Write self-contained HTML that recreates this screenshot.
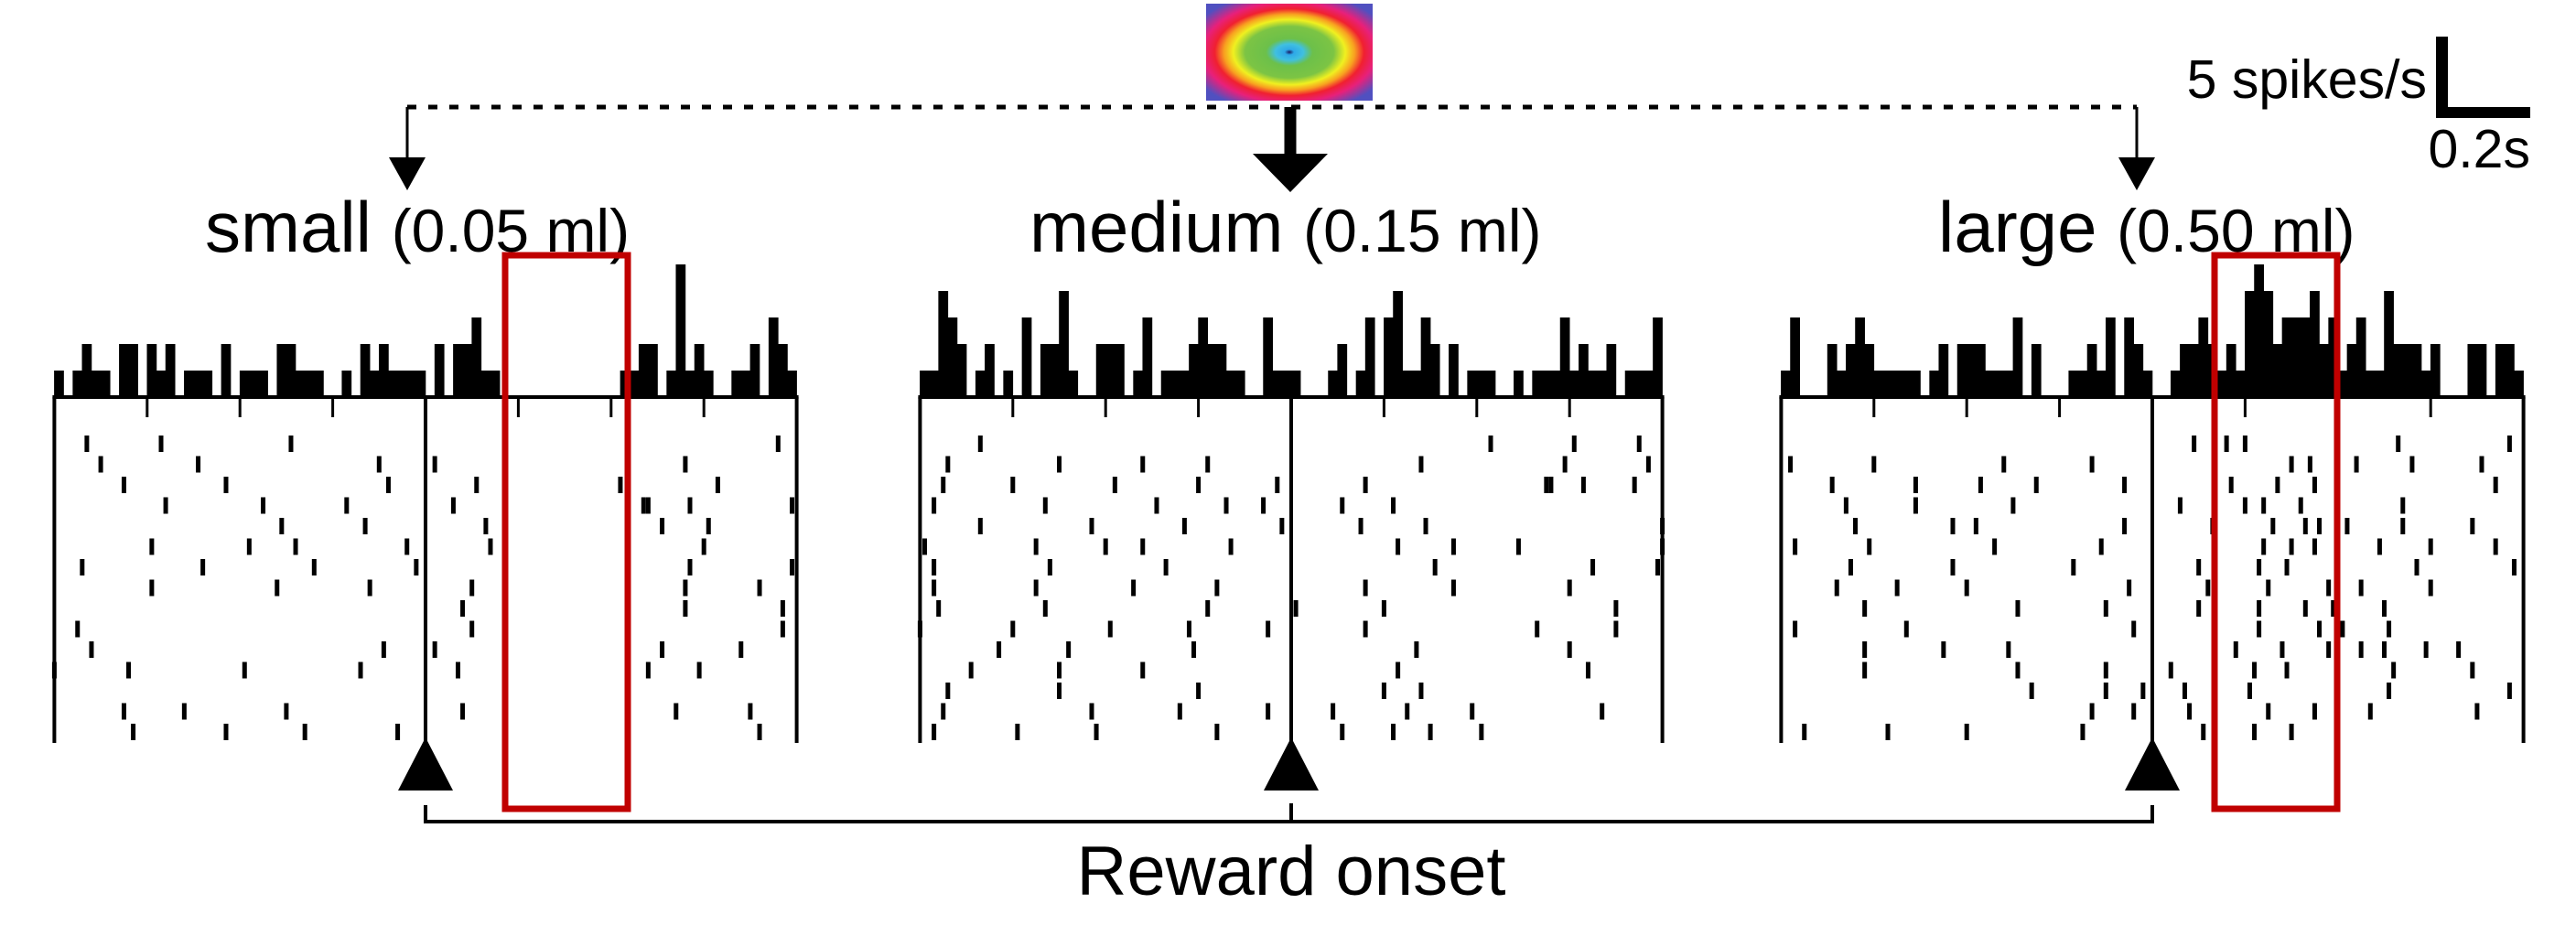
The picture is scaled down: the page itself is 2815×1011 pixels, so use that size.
<!DOCTYPE html>
<html><head><meta charset="utf-8"><style>
html,body{margin:0;padding:0;background:#fff;}
svg{display:block;}
text{font-family:"Liberation Sans",Arial,sans-serif;fill:#000;}
</style></head><body>
<svg id="fig" width="2815" height="1011" viewBox="0 0 2815 1011" xmlns="http://www.w3.org/2000/svg">
<defs>
<radialGradient id="rf" cx="50%" cy="50%" r="70%">
<stop offset="0" stop-color="#1a1a60"/><stop offset="0.04" stop-color="#2ea8e8"/><stop offset="0.12" stop-color="#40c0e0"/><stop offset="0.2" stop-color="#6cc04a"/><stop offset="0.38" stop-color="#7cc444"/><stop offset="0.48" stop-color="#f0f020"/><stop offset="0.56" stop-color="#f8a020"/><stop offset="0.64" stop-color="#f02030"/><stop offset="0.74" stop-color="#e8207a"/><stop offset="0.9" stop-color="#5050c0"/></radialGradient>
</defs>
<rect x="1318" y="4" width="182" height="106" fill="url(#rf)"/>
<line x1="445" y1="117" x2="2335" y2="117" stroke="#000" stroke-width="5" stroke-dasharray="10 13"/>
<g><line x1="445" y1="117" x2="445" y2="180" stroke="#000" stroke-width="3"/><polygon points="425,172 465,172 445,208" fill="#000"/></g>
<g><line x1="1410" y1="117" x2="1410" y2="172" stroke="#000" stroke-width="13"/><polygon points="1369,168 1451,168 1410,210" fill="#000"/></g>
<g><line x1="2335" y1="117" x2="2335" y2="180" stroke="#000" stroke-width="3"/><polygon points="2315,172 2355,172 2335,208" fill="#000"/></g>
<text x="224" y="275" font-size="78">small <tspan font-size="66">(0.05 ml)</tspan></text>
<text x="1125" y="275" font-size="78">medium <tspan font-size="66">(0.15 ml)</tspan></text>
<text x="2118" y="275" font-size="78">large <tspan font-size="66">(0.50 ml)</tspan></text>
<g>
<text x="2652" y="107" font-size="59" text-anchor="end">5 spikes/s</text>
<rect x="2662" y="40" width="13" height="87" fill="#000"/><rect x="2662" y="117" width="103" height="12" fill="#000"/>
<text x="2765" y="183" font-size="59" text-anchor="end">0.2s</text>
</g>
<g id="panels"></g>
<g>
<line x1="465" y1="898" x2="2352" y2="898" stroke="#000" stroke-width="4"/>
<line x1="465" y1="880" x2="465" y2="900" stroke="#000" stroke-width="4"/>
<line x1="1411" y1="878" x2="1411" y2="900" stroke="#000" stroke-width="4"/>
<line x1="2352" y1="880" x2="2352" y2="900" stroke="#000" stroke-width="4"/>
</g>
<text x="1411" y="978" font-size="76" text-anchor="middle">Reward onset</text>
<rect x="552" y="279" width="134" height="605" fill="none" stroke="#c00000" stroke-width="7"/>
<rect x="2420" y="279" width="134" height="605" fill="none" stroke="#c00000" stroke-width="7"/>
</svg>
<script>
const conditions=["small","medium","large"];
const rewardX=[465,1411,2352];
const histSmall=[1,0,1,2,1,1,0,2,2,0,2,1,2,0,1,1,1,0,2,0,1,1,1,0,2,2,1,1,1,0,0,1,0,2,1,2,1,1,1,1,0,2,0,2,2,3,1,1,0,0,0,0,0,0,0,0,0,0,0,0,0,1,1,2,2,0,1,5,1,2,1,0,0,1,1,2,0,3,2,1];
const histMedium=[1,1,4,3,2,0,1,2,0,1,0,3,0,2,2,4,1,0,0,2,2,2,0,1,3,0,1,1,1,2,3,2,2,1,1,0,0,3,1,1,1,0,0,0,1,2,0,1,3,0,3,4,1,1,3,2,0,2,0,1,1,1,0,0,1,0,1,1,1,3,1,2,1,1,2,0,1,1,1,3];
const histLarge=[1,3,0,0,0,2,1,2,3,2,1,1,1,1,1,0,1,2,0,2,2,2,1,1,1,3,0,2,0,0,0,1,1,2,1,3,0,3,2,1,0,0,1,2,2,3,2,1,2,1,4,5,4,2,3,3,3,4,2,3,1,2,3,1,1,4,2,2,2,1,2,0,0,0,2,2,0,2,2,1];
const spikesSmall=[[-0.73,-0.57,-0.29,0.76],[-0.70,-0.49,-0.10,0.02,0.56],[-0.65,-0.43,-0.08,0.11,0.42,0.63],[-0.56,-0.35,-0.17,0.06,0.47,0.48,0.57,0.79],[-0.31,-0.13,0.13,0.51,0.61],[-0.59,-0.38,-0.28,-0.04,0.14,0.60],[-0.74,-0.48,-0.24,-0.02,0.57,0.79],[-0.59,-0.32,-0.12,0.10,0.56,0.72],[0.08,0.56,0.77],[-0.75,0.10,0.77],[-0.72,-0.09,0.02,0.51,0.68],[-0.80,-0.64,-0.39,-0.14,0.07,0.48,0.59],[],[-0.65,-0.52,-0.30,0.08,0.54,0.70],[-0.63,-0.43,-0.26,-0.06,0.72]];
const spikesMedium=[[-0.67,0.43,0.61,0.75],[-0.74,-0.50,-0.32,-0.18,0.28,0.59,0.77],[-0.75,-0.60,-0.38,-0.20,-0.03,0.16,0.55,0.56,0.63,0.74],[-0.77,-0.53,-0.29,-0.14,-0.06,0.11,0.22],[-0.67,-0.43,-0.23,-0.02,0.15,0.29,0.80],[-0.79,-0.55,-0.40,-0.32,-0.13,0.23,0.35,0.49,0.80],[-0.77,-0.52,-0.27,0.31,0.65,0.79],[-0.77,-0.55,-0.34,-0.16,0.16,0.35,0.60],[-0.76,-0.53,-0.18,0.01,0.20,0.70],[-0.80,-0.60,-0.39,-0.22,-0.05,0.16,0.53,0.70],[-0.63,-0.48,-0.21,0.27,0.60],[-0.69,-0.50,-0.32,0.23,0.64],[-0.74,-0.50,-0.20,0.20,0.28],[-0.75,-0.43,-0.24,-0.05,0.09,0.25,0.39,0.67],[-0.77,-0.59,-0.42,-0.16,0.11,0.22,0.30,0.41]];
const spikesLarge=[[0.09,0.16,0.20,0.53,0.77],[-0.78,-0.60,-0.32,-0.13,0.30,0.34,0.44,0.56,0.71],[-0.69,-0.51,-0.37,-0.25,-0.06,0.17,0.27,0.35,0.74],[-0.66,-0.51,-0.30,0.06,0.20,0.24,0.32,0.54],[-0.64,-0.43,-0.38,-0.06,0.13,0.26,0.33,0.36,0.42,0.54,0.69],[-0.77,-0.61,-0.34,-0.11,0.24,0.30,0.35,0.49,0.60,0.74],[-0.65,-0.43,-0.17,0.10,0.23,0.29,0.57,0.78],[-0.68,-0.55,-0.40,-0.05,0.12,0.25,0.38,0.45,0.60],[-0.62,-0.29,-0.10,0.10,0.23,0.33,0.39,0.50],[-0.77,-0.53,-0.04,0.23,0.36,0.41,0.51],[-0.62,-0.45,-0.31,0.18,0.28,0.38,0.45,0.50,0.59,0.66],[-0.62,-0.29,-0.10,0.04,0.22,0.29,0.52,0.69],[-0.26,-0.10,-0.02,0.07,0.21,0.51,0.77],[-0.13,-0.04,0.08,0.25,0.35,0.47,0.70],[-0.75,-0.57,-0.40,-0.15,0.11,0.22,0.30]];
const tickTimes=[-0.6,-0.4,-0.2,0.2,0.4,0.6];
const hists=[histSmall,histMedium,histLarge];
const spikes=[spikesSmall,spikesMedium,spikesLarge];
const NS="http://www.w3.org/2000/svg";
const PXS=507, T0=-0.8, T1=0.8, BASE=434, LVL=29, ROW0=485, ROWH=22.5, AXB=812;
function xs(p,t){return rewardX[p]+t*PXS;}
function histY(c){return BASE-c*LVL;}
function rowY(r){return ROW0+r*ROWH;}
function mk(tag,attrs,parent){const e=document.createElementNS(NS,tag);for(const k in attrs)e.setAttribute(k,attrs[k]);parent.appendChild(e);return e;}
const root=document.getElementById('panels');
conditions.forEach((c,p)=>{
  const g=mk('g',{},root);
  
  
  const h=hists[p], n=h.length, bw=(xs(p,T1)-xs(p,T0))/n;
  const hg=mk('g',{},g);
  
  
  h.forEach((v,i)=>{ if(v<=0)return;
    const r=mk('rect',{x:xs(p,T0)+i*bw-0.3,y:histY(v),width:bw+0.6,height:BASE-histY(v),fill:'#000'},hg);
    
    
  });
  const ax=mk('g',{stroke:'#000','stroke-width':4},g);
  
  
  mk('line',{x1:xs(p,T0)-2,y1:BASE,x2:xs(p,T1)+2,y2:BASE},ax);
  mk('line',{x1:xs(p,T0),y1:BASE,x2:xs(p,T0),y2:AXB},ax);
  mk('line',{x1:xs(p,T1),y1:BASE,x2:xs(p,T1),y2:AXB},ax);
  mk('line',{x1:xs(p,0),y1:BASE,x2:xs(p,0),y2:AXB},ax);
  tickTimes.forEach(t=>{mk('line',{x1:xs(p,t),y1:BASE,x2:xs(p,t),y2:BASE+22,'stroke-width':3},ax);});
  const rg=mk('g',{fill:'#000'},g);
  
  
  spikes[p].forEach((row,r)=>{row.forEach(t=>{
    const s=mk('rect',{x:xs(p,t)-2.5,y:rowY(r)-9,width:5,height:18},rg);
    
    
  });});
  const tri=mk('polygon',{points:(xs(p,0)-30)+',864 '+(xs(p,0)+30)+',864 '+xs(p,0)+',806',fill:'#000'},g);
  
  
});
</script>
</body></html>
